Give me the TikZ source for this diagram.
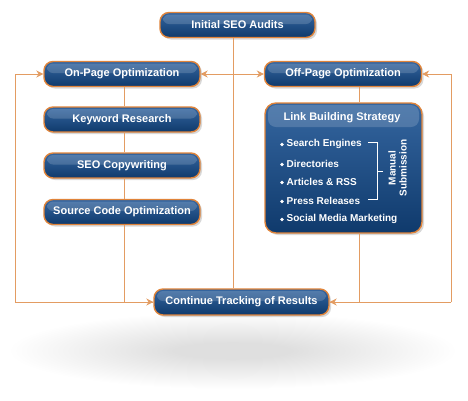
\documentclass[tikz,border=0pt]{standalone}
\usepackage{fontspec}
\setmainfont{Liberation Sans}
\usetikzlibrary{arrows.meta,shadows,positioning}
\definecolor{boxtop}{HTML}{3566A0}
\definecolor{boxbot}{HTML}{0F3A6C}
\definecolor{edgeor}{HTML}{E0843A}
\definecolor{lineor}{HTML}{E39C62}
\tikzset{
  pill/.style={draw=edgeor, line width=1.4pt, rounded corners=9pt,
    top color=boxtop, bottom color=boxbot, text=white,
    font=\bfseries\fontsize{11}{13}\selectfont,
    minimum height=25pt, inner sep=0pt,
    drop shadow={shadow xshift=2pt, shadow yshift=-2pt, opacity=0.3},
    path picture={\fill[white,opacity=0.16,rounded corners=6pt]
      ([xshift=3pt,yshift=-2pt]path picture bounding box.north west) rectangle
      ([xshift=-3pt,yshift=1pt]path picture bounding box.east);}},
  linkbox/.style={pill, rounded corners=11pt,
    path picture={\fill[white,opacity=0.16,rounded corners=8pt]
      ([xshift=3pt,yshift=-2pt]path picture bounding box.north west) rectangle
      ([xshift=-3pt,yshift=-24pt]path picture bounding box.north east);}},
  conn/.style={draw=lineor, line width=0.9pt},
  arr/.style={conn, -{Stealth[length=7pt,width=7pt]}},
  item/.style={text=white, font=\bfseries\fontsize{10}{12}\selectfont, anchor=west, inner sep=0pt},
}
\begin{document}
\begin{tikzpicture}[x=1pt,y=-1pt]
\useasboundingbox (0,0) rectangle (468,400);
\fill[white] (0,0) rectangle (468,400);
% floor shadow
\foreach \k in {0,...,31}{
  \fill[black, opacity=0.0058] (233,351) ellipse [x radius={222-5.2*\k}, y radius={38-0.95*\k}];
}
% nodes
\node[pill, minimum width=155pt] (audit) at (237.5,25) {Initial SEO Audits};
\node[pill, minimum width=156pt] (onpage) at (122,74) {On-Page Optimization};
\node[pill, minimum width=157pt] (offpage) at (343,74) {Off-Page Optimization};
\node[pill, minimum width=156pt] (kw) at (122,119.5) {Keyword Research};
\node[pill, minimum width=156pt] (copy) at (122,165.5) {SEO Copywriting};
\node[pill, minimum width=156pt] (src) at (122,212) {Source Code Optimization};
\node[pill, minimum width=175pt, minimum height=26pt] (track) at (241.5,302) {Continue Tracking of Results};
\node[linkbox, minimum width=157pt, minimum height=130pt] (link) at (343.5,168) {};
% link box content
\node[text=white, font=\bfseries\fontsize{11}{13}\selectfont] (lbt) at (342,118) {Link Building Strategy};
\foreach \t/\y/\n in {Search Engines/144/a, Directories/164/b, Articles \& RSS/182/c, Press Releases/201/d, Social Media Marketing/219/e}{
  \fill[white] (282,\y+0.5) circle (1.9pt);
  \node[item] (it\n) at (286.5,\y) {\t};
}
\draw[white, line width=1pt] (368,142) -- (377,142) -- (377,199) -- (368,199);
\draw[white, line width=1pt] (377,171) -- (383,171);
\node[text=white, font=\bfseries\fontsize{10}{11}\selectfont, rotate=90, align=center, inner sep=0pt] (man) at (397.5,168) {Manual\\Submission};
% connectors
\coordinate (cx) at (233,0);
\coordinate (lx) at (124,0);
\coordinate (rx) at (359,0);
\coordinate (ltop) at (15,74);
\coordinate (lbot) at (15,302);
\coordinate (rtop) at (451,74);
\coordinate (rbot) at (451,302);
\draw[conn] (audit.south -| cx) -- (track.north -| cx);
\draw[arr] (onpage.east -| cx) -- (onpage.east);
\draw[arr] (offpage.west -| cx) -- (offpage.west);
\draw[conn] (onpage.south -| lx) -- (kw.north -| lx);
\draw[conn] (kw.south -| lx) -- (copy.north -| lx);
\draw[conn] (copy.south -| lx) -- (src.north -| lx);
\draw[arr] (src.south -| lx) |- (track.west);
\draw[conn] (lbot) -- (track.west);
\draw[arr] (lbot) -- (ltop) -- (onpage.west);
\draw[conn] (offpage.south -| rx) -- (link.north -| rx);
\draw[arr] (link.south -| rx) |- (track.east);
\draw[conn] (rbot) -- (track.east);
\draw[arr] (rbot) -- (rtop) -- (offpage.east);
\end{tikzpicture}
\end{document}
